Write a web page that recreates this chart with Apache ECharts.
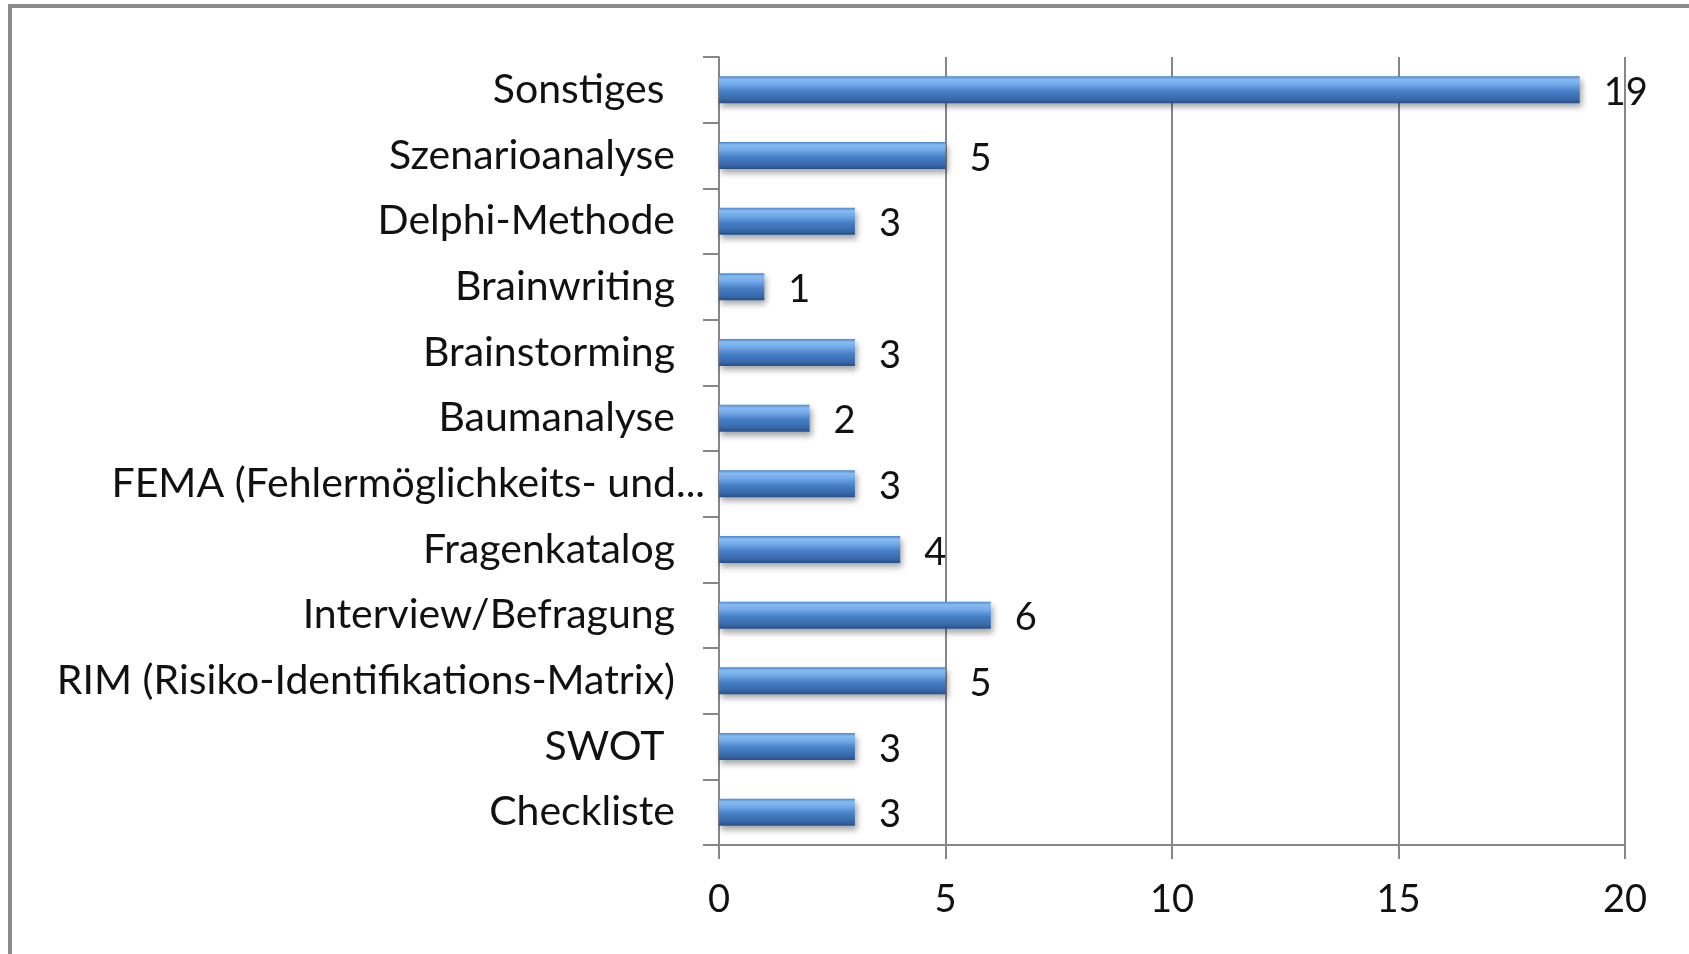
<!DOCTYPE html>
<html>
<head>
<meta charset="utf-8">
<script src="https://cdn.jsdelivr.net/npm/echarts@6/dist/echarts.min.js"></script>
<style>
html,body{margin:0;padding:0;background:#fff;}
#c{width:1689px;height:954px;}
</style>
</head>
<body>
<div id="c"></div>
<script>
const categories = ['Checkliste', 'SWOT ', 'RIM (Risiko-Identifikations-Matrix)', 'Interview/Befragung', 'Fragenkatalog', 'FEMA (Fehlermöglichkeits- und...', 'Baumanalyse', 'Brainstorming', 'Brainwriting', 'Delphi-Methode', 'Szenarioanalyse', 'Sonstiges '];
const values = [3, 3, 5, 6, 4, 3, 2, 3, 1, 3, 5, 19];
const xTicks = [0, 5, 10, 15, 20];
const overflowLabel = 'FEMA (Fehlermöglichkeits- und...';

const FONT = 'Lato';
const GRAY = '#878787';
const chart = echarts.init(document.getElementById('c'), null, {renderer: 'canvas'});
chart.setOption({
  animation: false,
  backgroundColor: '#fff',
  graphic: [{
    type: 'rect', z: 100,
    shape: {x: 10, y: 6, width: 2200, height: 2200},
    style: {fill: 'none', stroke: '#8a8a8a', lineWidth: 4}
  }],
  grid: {left: 719, right: 64, top: 57, bottom: 109, containLabel: false},
  xAxis: {
    type: 'value', min: xTicks[0], max: xTicks[xTicks.length - 1], interval: 5,
    axisLine: {show: true, lineStyle: {color: GRAY, width: 2}},
    axisTick: {show: true, length: 14, lineStyle: {color: GRAY, width: 2}},
    splitLine: {show: true, lineStyle: {color: GRAY, width: 2}},
    axisLabel: {fontFamily: FONT, fontSize: 38, color: '#111', margin: 36}
  },
  yAxis: {
    type: 'category', data: categories,
    axisLine: {show: true, lineStyle: {color: GRAY, width: 2}},
    axisTick: {show: true, length: 16, alignWithLabel: false, lineStyle: {color: GRAY, width: 2}},
    axisLabel: {
      fontFamily: FONT, fontSize: 41, color: '#111', margin: 14,
      formatter: v => v === overflowLabel ? '{o|' + v + '}' : '{n|' + v + '}',
      rich: {
        n: {fontFamily: FONT, fontSize: 41, color: '#111', padding: [0, 30, 0, 0]},
        o: {fontFamily: FONT, fontSize: 41, color: '#111', padding: [0, 0, 0, 0]}
      }
    }
  },
  series: [{
    type: 'bar', data: values, barWidth: 27,
    itemStyle: {
      color: new echarts.graphic.LinearGradient(0, 0, 0, 1, [
        {offset: 0, color: '#4f86cb'},
        {offset: 0.12, color: '#86bcf2'},
        {offset: 0.3, color: '#72a9e8'},
        {offset: 0.55, color: '#4880c6'},
        {offset: 0.85, color: '#3768aa'},
        {offset: 1, color: '#264f88'}
      ]),
      shadowColor: 'rgba(0,0,0,0.35)', shadowBlur: 6, shadowOffsetX: 2, shadowOffsetY: 4
    },
    label: {show: true, position: 'right', distance: 24, fontFamily: FONT, fontSize: 38, color: '#111', offset: [0, 3]}
  }]
});
</script>
</body>
</html>
